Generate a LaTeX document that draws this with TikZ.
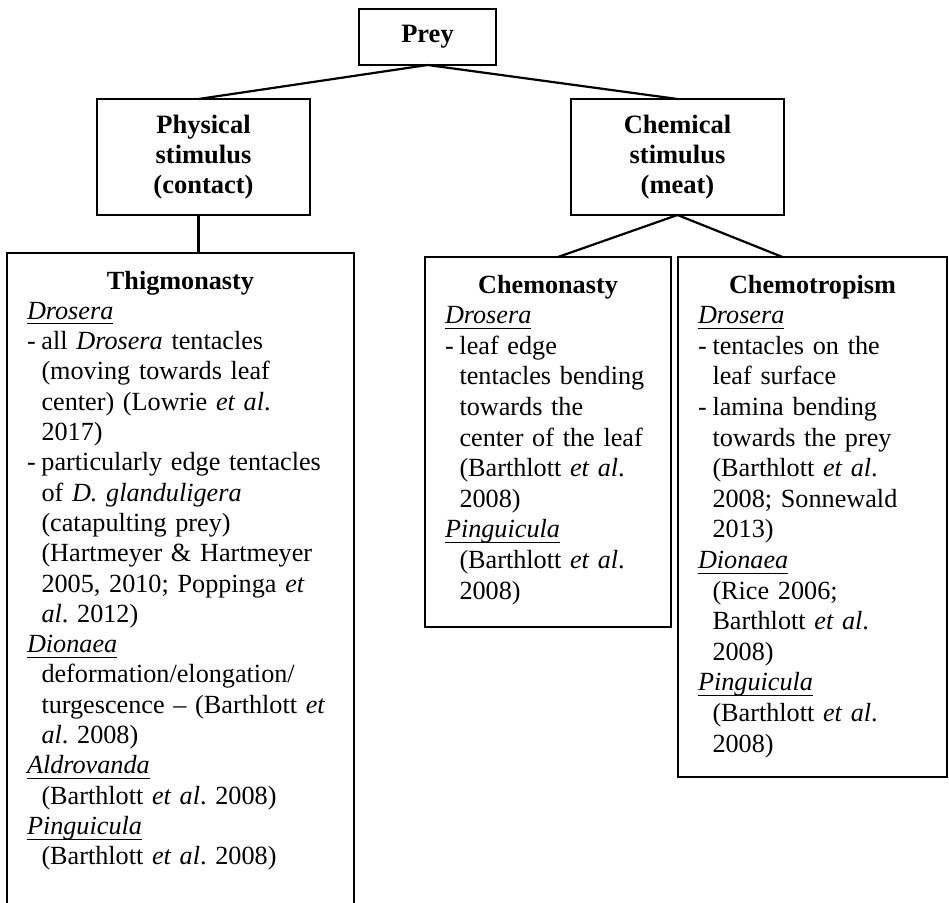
\documentclass[tikz,border=0pt]{standalone}
\usepackage{fontspec}
\setmainfont{Liberation Serif}
\usepackage{tikz}

\newsavebox{\genbox}
\newcommand{\genus}[1]{\leavevmode\sbox{\genbox}{\textit{#1}}\rlap{\rule[-5pt]{\wd\genbox}{0.9pt}}\usebox{\genbox}}
\newcommand{\ind}{\leavevmode\hspace*{14.5pt}}
\newcommand{\bul}{\leavevmode\makebox[14.5pt][l]{-}}
\newcommand{\panelhead}[1]{\makebox[\linewidth]{\textbf{#1}}}
\frenchspacing

\begin{document}
\begin{tikzpicture}[
  x=1pt, y=-1pt,
  head/.style={rectangle, draw=black, line width=1.8pt, outer sep=0pt, inner sep=0pt,
               align=center, font=\fontsize{26.5}{30}\selectfont\bfseries},
  panel/.style={rectangle, draw=black, line width=1.8pt, outer sep=0pt, anchor=north west,
                align=left, inner xsep=20pt, inner ysep=17.5pt, text height=18.5pt},
  link/.style={line width=2.2pt}
]
\useasboundingbox (0,0) rectangle (949,902);
\clip (0,0) rectangle (949,902);
\hyphenpenalty=10000

% Row y positions
\def\yA{37}   % Prey
\def\yB{157}  % stimulus
\def\yC{253}  % responses (left)
\def\yD{257}  % responses (right)

% Top
\node[head, minimum width=137pt, minimum height=56pt] (prey) at (427.5,\yA) {Prey};

% Stimulus row
\node[head, minimum width=213pt, minimum height=116pt] (phys) at (203.5,\yB)
  {Physical\\stimulus\\(contact)};
\node[head, minimum width=213pt, minimum height=116pt] (chem) at (677.5,\yB)
  {Chemical\\stimulus\\(meat)};

% Response panels
\node[panel, text width=307pt, text depth=700pt, font=\fontsize{26.2}{30.3}\selectfont]
  (thig) at (7,\yC) {\panelhead{Thigmonasty}\\
\genus{Drosera}\\
\bul all \textit{Drosera} tentacles\\
\ind(moving towards leaf\\
\ind center) (Lowrie \textit{et al}.\\
\ind 2017)\\
\bul particularly edge tentacles\\
\ind of \textit{D. glanduligera}\\
\ind(catapulting prey)\\
\ind(Hartmeyer \& Hartmeyer\\
\ind 2005, 2010; Poppinga \textit{et}\\
\ind\textit{al}. 2012)\\
\genus{Dionaea}\\
\ind deformation/elongation/\\
\ind turgescence -- (Barthlott \textit{et}\\
\ind\textit{al}. 2008)\\
\genus{Aldrovanda}\\
\ind(Barthlott \textit{et al}. 2008)\\
\genus{Pinguicula}\\
\ind(Barthlott \textit{et al}. 2008)};

\node[panel, text width=206pt, text depth=316.5pt, font=\fontsize{26.2}{30.6}\selectfont]
  (nasty) at (425,\yD) {\panelhead{Chemonasty}\\
\genus{Drosera}\\
\bul leaf edge\\
\ind tentacles bending\\
\ind towards the\\
\ind center of the leaf\\
\ind(Barthlott \textit{et al}.\\
\ind 2008)\\
\genus{Pinguicula}\\
\ind(Barthlott \textit{et al}.\\
\ind 2008)};

\node[panel, text width=229pt, text depth=466.5pt, font=\fontsize{26.2}{30.6}\selectfont]
  (tropism) at (678,\yD) {\panelhead{Chemotropism}\\
\genus{Drosera}\\
\bul tentacles on the\\
\ind leaf surface\\
\bul lamina bending\\
\ind towards the prey\\
\ind(Barthlott \textit{et al}.\\
\ind 2008; Sonnewald\\
\ind 2013)\\
\genus{Dionaea}\\
\ind(Rice 2006;\\
\ind Barthlott \textit{et al}.\\
\ind 2008)\\
\genus{Pinguicula}\\
\ind(Barthlott \textit{et al}.\\
\ind 2008)};

% Links
\draw[link] (prey.south) -- ([xshift=-5pt]phys.north);
\draw[link] (prey.south) -- (chem.north);
\draw[link] ([xshift=-5pt]phys.south) -- ([xshift=-5pt]phys.south |- thig.north);
\draw[link] (chem.south) -- ([xshift=10pt]nasty.north);
\draw[link] (chem.south) -- ([xshift=-30pt]tropism.north);
\end{tikzpicture}
\end{document}
